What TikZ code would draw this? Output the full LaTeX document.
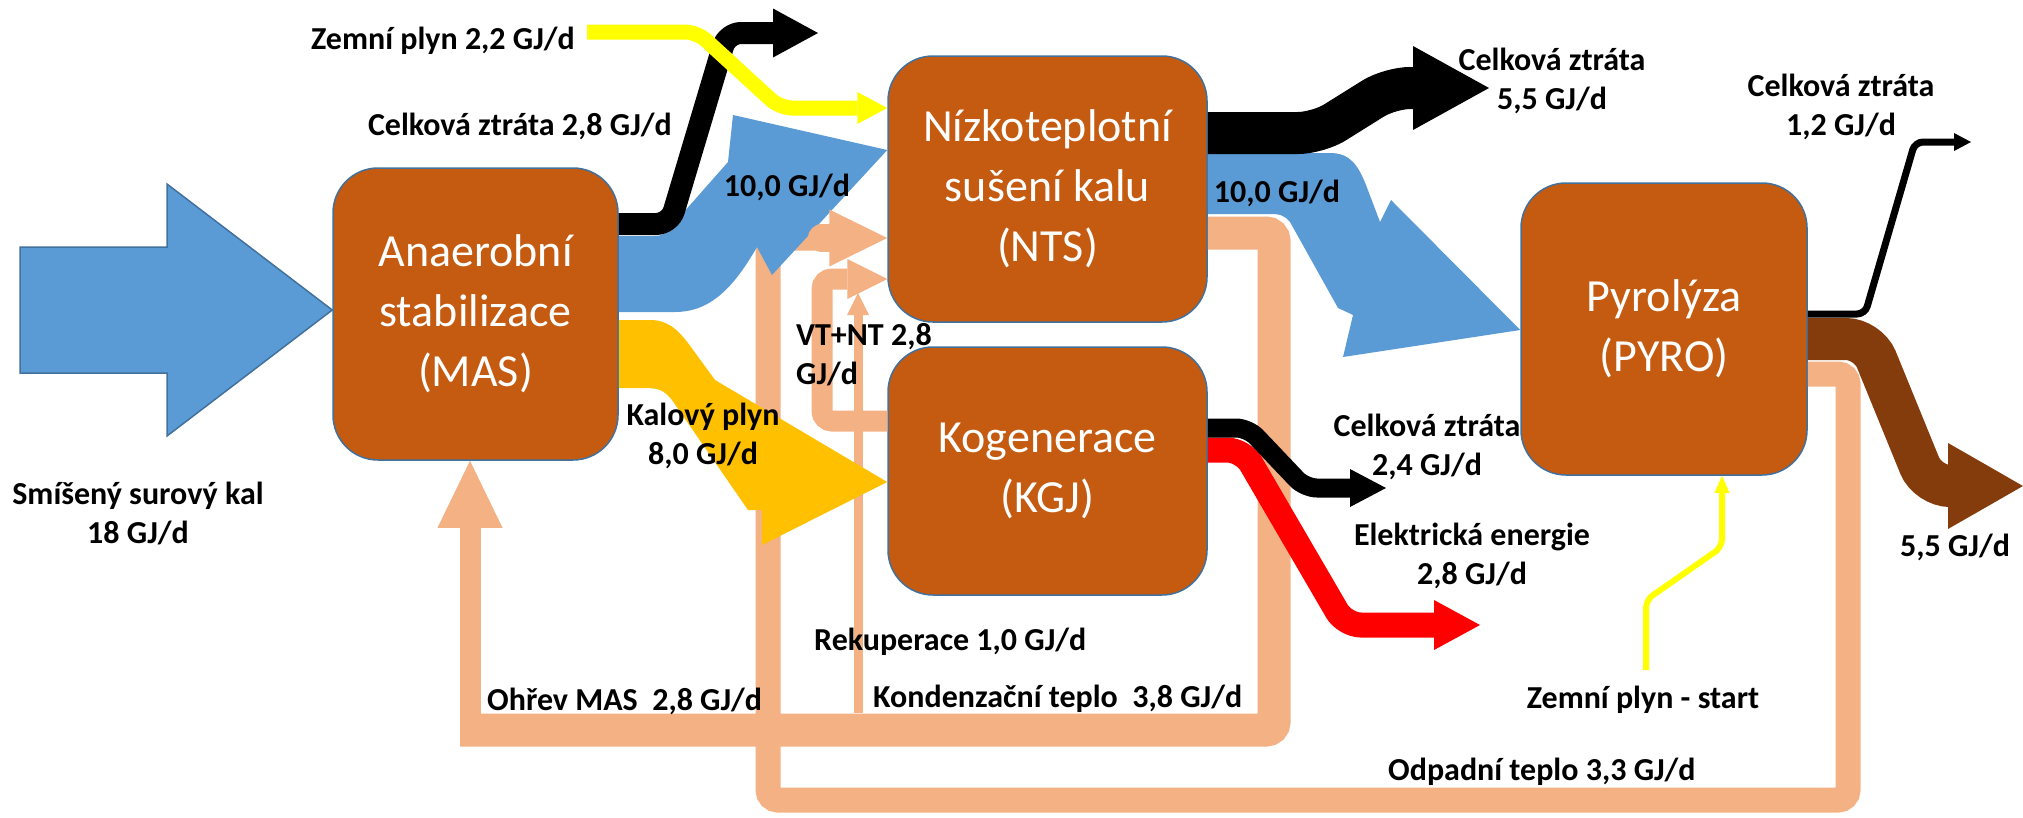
\documentclass[tikz,border=0pt]{standalone}
\usepackage{fontspec}
\setmainfont{Carlito}
\usetikzlibrary{arrows.meta,positioning}

\definecolor{sludgeblue}{HTML}{5B9BD5}
\definecolor{boxorange}{HTML}{C55A11}
\definecolor{boxedge}{HTML}{41719C}
\definecolor{heatcol}{HTML}{F4B183}
\definecolor{biogas}{HTML}{FFC000}
\definecolor{gasyellow}{HTML}{FFFF00}
\definecolor{charbrown}{HTML}{843C0C}

\tikzset{
  unit/.style={rectangle, rounded corners=45pt, fill=boxorange, draw=boxedge,
    line width=1.5pt, text=white, align=center, font=\fontsize{46}{60}\selectfont},
  lbl/.style={align=center, inner sep=0pt, font=\bfseries\fontsize{32}{39}\selectfont},
  heat/.style={draw=heatcol},
  fhead/.style={-{Triangle[#1,line width=0pt]}}
}

\begin{document}
\begin{tikzpicture}[x=1pt,y=-1pt]
    \useasboundingbox (0,0) rectangle (2023,817);

    %units:
    \node[unit, minimum width=285pt, minimum height=292pt] (mas) at (475.5,314) {Anaerobní\\stabilizace\\(MAS)};
    \node[unit, minimum width=319pt, minimum height=266pt] (nts) at (1047.5,189) {Nízkoteplotní\\sušení kalu\\(NTS)};
    \node[unit, minimum width=319pt, minimum height=248pt] (kgj) at (1047.5,471) {Kogenerace\\(KGJ)};
    \node[unit, minimum width=286pt, minimum height=292pt] (pyro) at (1664,329) {Pyrolýza\\(PYRO)};

    %free ends:
    \coordinate (gasin) at (587,32);
    \coordinate (loss1) at (818,33);
    \coordinate (loss2) at (1489,88);
    \coordinate (loss3) at (1386,488);
    \coordinate (loss4) at (1971,142);
    \coordinate (elec) at (1480,625);
    \coordinate (char) at (2023,486);
    \coordinate (gasstart) at (1646,670);
    \coordinate (rek) at (858,713);

    %heat loops:
    \draw[heat, line width=33pt, rounded corners=8pt] (nts.east |- 0,233) -- (1274,233) -- (1274,730) -- (460,730);
    \draw[heat, line width=21pt, fhead={length=67pt,width=65pt}] (470,746) -- (mas.south -| 470,0);
    \draw[heat, line width=25pt, rounded corners=10pt] (pyro.east |- 0,374) -- (1848,374) -- (1848,800) -- (768,800) -- (768,238) -- (830,238);
    \draw[heat, line width=21pt, rounded corners=10pt, fhead={length=40pt,width=40pt}] (kgj.west |- 0,421) -- (822,421) -- (822,279) -- (nts.west |- 0,279);
    \draw[heat, line width=9pt, fhead={length=22pt,width=22pt}] (rek) -- (858,293);

    %sludge and biogas:
    \filldraw[fill=sludgeblue, draw=boxedge, line width=1.5pt] (20,247) -- (167,247) -- (167,184) -- (mas.west |- 0,310) -- (167,436) -- (167,373) -- (20,373) -- cycle;
    \fill[sludgeblue] (mas.east |- 0,236) -- (655,236) .. controls (668,236) and (675,224) .. (683,213) -- (728,162) -- (733,115) -- (nts.west |- 0,150) -- (772,275) -- (757,247) .. controls (735,285) and (712,312) .. (675,312) -- (mas.east |- 0,312) -- cycle;
    \fill[sludgeblue] (nts.east |- 0,153) -- (1330,153) .. controls (1350,153) and (1358,165) .. (1366,185) -- (1380,222) -- (1391,200) -- (pyro.west |- 0,330) -- (1343,357) -- (1353,315) -- (1338,308) -- (1290,222) .. controls (1284,215) and (1280,214) .. (1270,214) -- (nts.east |- 0,214) -- cycle;
    \fill[biogas] (mas.east |- 0,320) -- (650,320) .. controls (668,320) and (678,330) .. (688,343) -- (715,380) -- (kgj.west |- 0,482) -- (762,545) -- (762,510) -- (748,510) -- (672,400) .. controls (664,390) and (658,388) .. (645,388) -- (mas.east |- 0,388) -- cycle;
    \draw[heat, line width=28pt, line cap=round, fhead={length=58pt,width=57pt}] (822,238) -- (nts.west |- 0,238);

    %losses and products:
    \draw[black, line width=22pt, rounded corners=14pt, fhead={length=45pt,width=49pt}] (mas.east |- 0,224) -- (670,224) -- (727,33) -- (loss1);
    \draw[gasyellow, line width=15pt, rounded corners=12pt, fhead={length=30pt,width=32pt}] (gasin) -- (697,32) -- (780,108) -- (nts.west |- 0,108);
    \draw[black, line width=42pt, rounded corners=20pt, fhead={length=76pt,width=84pt}] (nts.east |- 0,133) -- (1318,133) -- (1390,88) -- (loss2);
    \draw[red, line width=25pt, rounded corners=16pt, fhead={length=46pt,width=50pt}] (kgj.east |- 0,450) -- (1243,450) -- (1345,625) -- (elec);
    \draw[black, line width=19pt, rounded corners=12pt, fhead={length=36pt,width=38pt}] (kgj.east |- 0,428) -- (1248,428) -- (1305,488) -- (loss3);
    \draw[black, line width=7pt, rounded corners=8pt, fhead={length=17pt,width=18pt}] (pyro.east |- 0,314) -- (1865,314) -- (1915,142) -- (loss4);
    \draw[charbrown, line width=42pt, rounded corners=22pt, fhead={length=75pt,width=86pt}] (pyro.east |- 0,339) -- (1868,339) -- (1928,486) -- (char);
    \draw[gasyellow, line width=6pt, rounded corners=8pt, fhead={length=17pt,width=15pt}] (gasstart) -- (1646,600) -- (1722,547) -- (pyro.south -| 1722,0);

    %labels:
    \node[lbl] (feedlbl) at (138,513) {Smíšený surový kal\\18 GJ/d};
    \node[lbl, anchor=east] (gaslbl) at (575,41) {Zemní plyn 2,2 GJ/d};
    \node[lbl, anchor=east] (loss1lbl) at (672,126) {Celková ztráta 2,8 GJ/d};
    \node[lbl] (dry1lbl) at (787,187) {10,0 GJ/d};
    \node[lbl] (biogaslbl) at (703,436) {Kalový plyn\\8,0 GJ/d};
    \node[lbl, anchor=west, align=left] (vtntlbl) at (796,355) {VT+NT 2,8\\GJ/d};
    \node[lbl] (loss2lbl) at (1552,81) {Celková ztráta\\5,5 GJ/d};
    \node[lbl] (dry2lbl) at (1277,193) {10,0 GJ/d};
    \node[lbl] (loss4lbl) at (1841,107) {Celková ztráta\\1,2 GJ/d};
    \node[lbl] (loss3lbl) at (1427,447) {Celková ztráta\\2,4 GJ/d};
    \node[lbl] (eleclbl) at (1472,556) {Elektrická energie\\2,8 GJ/d};
    \node[lbl] (charlbl) at (1955,547) {5,5 GJ/d};
    \node[lbl, anchor=west] (reclbl) at (814,642) {Rekuperace 1,0 GJ/d};
    \node[lbl, anchor=west] (maslbl) at (487,701) {Ohřev MAS\ \ 2,8 GJ/d};
    \node[lbl, anchor=west] (condlbl) at (873,699) {Kondenzační teplo\ \ 3,8 GJ/d};
    \node[lbl] (startlbl) at (1643,700) {Zemní plyn - start};
    \node[lbl, anchor=west] (wastelbl) at (1388,772) {Odpadní teplo 3,3 GJ/d};

\end{tikzpicture}
\end{document}
